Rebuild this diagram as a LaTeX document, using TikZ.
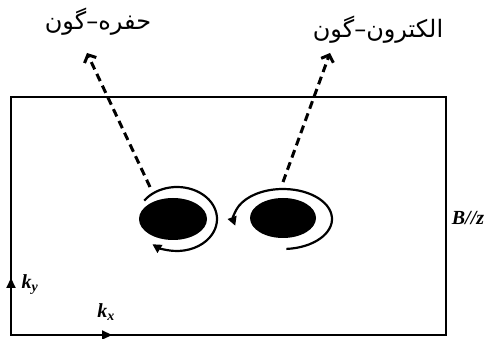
\documentclass[tikz,border=0pt]{standalone}
\usepackage{fontspec}
\setmainfont{Liberation Serif}
\newfontfamily\arabicfont[Script=Arabic]{DejaVu Sans}
\TeXXeTstate=1
\usepackage{tikz}
\usetikzlibrary{arrows.meta,positioning,calc}

\begin{document}
\begin{tikzpicture}[x=1pt,y=1pt,
  frame/.style={line width=2.2pt},
  orbit/.style={line width=2.2pt,-{Triangle[length=9pt,width=9pt]}},
  pointer/.style={line width=3pt,dash pattern=on 8pt off 5pt,-{Straight Barb[length=6pt,width=13pt,line width=3pt]}},
  lbl/.style={font=\arabicfont\fontsize{24}{28}\selectfont,inner sep=0pt},
  axis/.style={font=\bfseries\itshape\fontsize{20}{22}\selectfont,inner sep=0pt}
]
\useasboundingbox (0,0) rectangle (486,339);
% zone
\draw[frame] (11,4) rectangle (446,242);
\draw[frame,-{Triangle[length=10pt,width=9pt]}] (11,4) -- (11,61);
\draw[frame,-{Triangle[length=10pt,width=9pt]}] (11,4) -- (112,4);
% pockets
\fill (173,120) ellipse[x radius=34,y radius=21];
\fill (283,121) ellipse[x radius=33,y radius=20];
\draw[orbit] (177,120) ++(145:40 and 32) arc[start angle=145,end angle=-128,x radius=40,y radius=32];
\draw[orbit] (283,120) ++(-86:49 and 30) arc[start angle=-86,end angle=193,x radius=49,y radius=30];
% labels
\node[lbl] (hole) at (98,317) {\beginR حفره–گون\endR};
\node[lbl] (elec) at (378,309) {\beginR الکترون–گون\endR};
\coordinate (holestart) at (150,152);
\coordinate (elecstart) at (283,157);
\coordinate (holetip) at (87,286);
\coordinate (electip) at (330,286);
\draw[pointer] (holestart) -- (holetip);
\draw[pointer] (elecstart) -- (electip);
\node[axis] (field) at (468,121) {B//z};
\node[axis] (ky) at (30,54) {k\textsubscript{y}};
\node[axis] (kx) at (106,27) {k\textsubscript{x}};
\end{tikzpicture}
\end{document}
